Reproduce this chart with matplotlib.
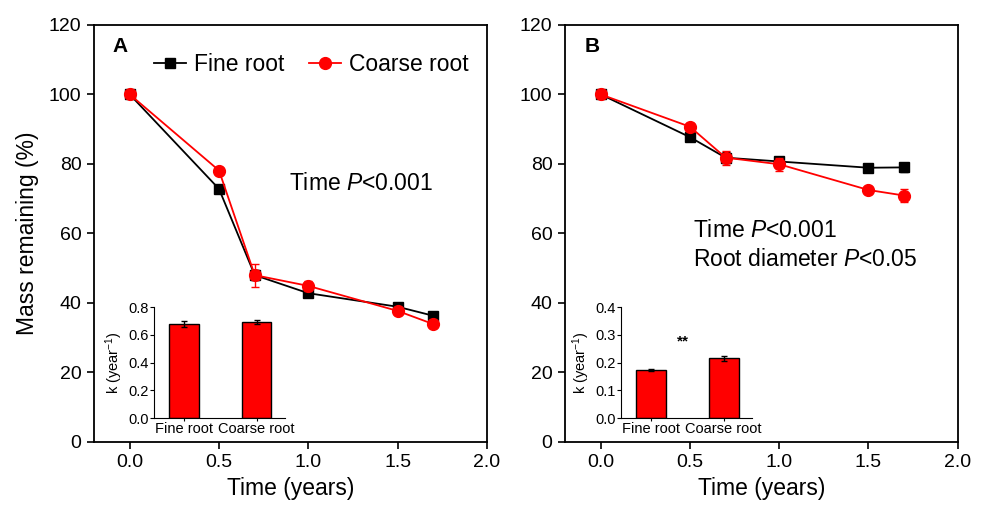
import numpy as np
import matplotlib
matplotlib.use('Agg')
import matplotlib.pyplot as plt
from matplotlib.lines import Line2D

plt.rcParams['font.family'] = ['Liberation Sans', 'DejaVu Sans']
plt.rcParams['mathtext.fontset'] = 'custom'
plt.rcParams['mathtext.rm'] = 'Liberation Sans'
plt.rcParams['mathtext.it'] = 'Liberation Sans:italic'

# time points (years)
time = [0.0, 0.5, 0.7, 1.0, 1.5, 1.7]

# panel A mass remaining (%)
a_fine = [100.0, 72.8, 48.0, 42.8, 38.9, 36.3]
a_fine_err = [0.5, 0.8, 1.5, 1.0, 1.0, 0.8]
a_coarse = [100.0, 78.1, 48.0, 44.9, 37.7, 33.9]
a_coarse_err = [0.5, 0.8, 3.3, 1.5, 0.8, 0.6]

# panel B mass remaining (%)
b_fine = [100.0, 87.7, 81.8, 80.7, 78.9, 79.0]
b_fine_err = [0.5, 0.8, 1.5, 1.0, 0.8, 1.2]
b_coarse = [100.0, 90.7, 81.8, 79.9, 72.5, 70.9]
b_coarse_err = [0.5, 1.0, 2.0, 1.8, 0.8, 1.8]

# decay constants k (year^-1)
roots = ['Fine root', 'Coarse root']
a_k = [0.68, 0.69]
a_k_err = [0.02, 0.015]
b_k = [0.173, 0.215]
b_k_err = [0.005, 0.01]


def draw_main(ax, fine, fine_err, coarse, coarse_err):
    ax.errorbar(time, fine, yerr=fine_err, color='black', marker='s',
                markersize=7.5, linewidth=1.3, capsize=3, elinewidth=1,
                zorder=3)
    ax.errorbar(time, coarse, yerr=coarse_err, color='red', marker='o',
                markersize=8.5, linewidth=1.3, capsize=3, elinewidth=1,
                zorder=4)
    ax.set_xlim(-0.2, 2.0)
    ax.set_ylim(0, 120)
    ax.set_xticks([0.0, 0.5, 1.0, 1.5, 2.0])
    ax.set_xticklabels(['0.0', '0.5', '1.0', '1.5', '2.0'])
    ax.set_yticks(range(0, 121, 20))
    ax.tick_params(direction='out', length=5, width=1.2, labelsize=14,
                   top=False, right=False, pad=4)
    for s in ax.spines.values():
        s.set_linewidth(1.3)
    ax.set_xlabel('Time (years)', fontsize=16.5, labelpad=4)


def draw_inset(fig, rect, k, k_err, ymax, step):
    ins = fig.add_axes(rect)
    ins.patch.set_alpha(0)
    x = np.arange(len(roots))
    ins.bar(x, k, width=0.41, color='red', edgecolor='black', linewidth=1,
            yerr=k_err, capsize=2, error_kw={'elinewidth': 1})
    ins.set_xlim(-0.41, 1.39)
    ins.set_ylim(0, ymax)
    ticks = np.arange(0, ymax + step / 2, step)
    ins.set_yticks(ticks)
    ins.set_yticklabels(['%.1f' % v for v in ticks])
    ins.set_xticks(x)
    ins.set_xticklabels(roots)
    ins.spines['top'].set_visible(False)
    ins.spines['right'].set_visible(False)
    ins.tick_params(axis='y', direction='out', length=3, labelsize=10.5, pad=1)
    ins.tick_params(axis='x', direction='out', length=2, labelsize=10.5, pad=1)
    ins.set_ylabel('k (year$^{-1}$)', fontsize=10.5, labelpad=2)
    return ins


fig = plt.figure(figsize=(9.85, 5.08), dpi=100)
axA = fig.add_axes([0.0954, 0.130, 0.399, 0.821])
axB = fig.add_axes([0.5736, 0.130, 0.3987, 0.821])

draw_main(axA, a_fine, a_fine_err, a_coarse, a_coarse_err)
draw_main(axB, b_fine, b_fine_err, b_coarse, b_coarse_err)
axA.set_ylabel('Mass remaining (%)', fontsize=16.5, labelpad=7)

axA.text(0.048, 0.947, 'A', transform=axA.transAxes, fontsize=15,
         fontweight='bold', va='center', ha='left')
axB.text(0.051, 0.947, 'B', transform=axB.transAxes, fontsize=15,
         fontweight='bold', va='center', ha='left')

handles = [Line2D([], [], color='black', marker='s', markersize=7.5, linewidth=1.3),
           Line2D([], [], color='red', marker='o', markersize=8.5, linewidth=1.3)]
axA.legend(handles, roots, loc='center left', bbox_to_anchor=(0.152, 0.906),
           frameon=False, ncol=2, fontsize=16.5, handlelength=1.4,
           handletextpad=0.35, columnspacing=1.1, borderpad=0, borderaxespad=0)

axA.text(0.89, 74.5, 'Time $\\it{P}$<0.001', fontsize=16.5, va='center', ha='left')
axB.text(0.517, 60.7, 'Time $\\it{P}$<0.001', fontsize=16.5, va='center', ha='left')
axB.text(0.517, 52.5, 'Root diameter $\\it{P}$<0.05', fontsize=16.5,
         va='center', ha='left')

draw_inset(fig, [0.1563, 0.177, 0.133, 0.2185], a_k, a_k_err, 0.8, 0.2)
insB = draw_inset(fig, [0.6305, 0.177, 0.133, 0.2185], b_k, b_k_err, 0.4, 0.1)
insB.text(0.44, 0.277, '**', fontsize=11, fontweight='bold', ha='center', va='center')

fig.savefig('out.png', dpi=100)
